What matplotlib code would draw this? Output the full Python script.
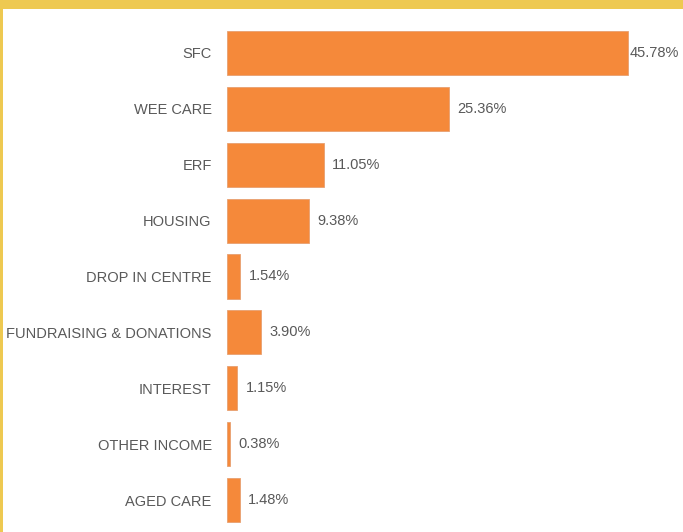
import matplotlib
matplotlib.use("Agg")
import matplotlib.pyplot as plt
from matplotlib.patches import Rectangle

categories = ["SFC", "WEE CARE", "ERF", "HOUSING", "DROP IN CENTRE",
              "FUNDRAISING & DONATIONS", "INTEREST", "OTHER INCOME", "AGED CARE"]
values = [45.78, 25.36, 11.05, 9.38, 1.54, 3.90, 1.15, 0.38, 1.48]
value_labels = ["45.78%", "25.36%", "11.05%", "9.38%", "1.54%",
                "3.90%", "1.15%", "0.38%", "1.48%"]

W, H = 683, 532
fig = plt.figure(figsize=(W / 100, H / 100), dpi=100)
fig.patch.set_facecolor("#EEC951")
fig.add_artist(Rectangle((3 / W, 0), 1 - 3 / W, (H - 9) / H,
                         transform=fig.transFigure, facecolor="white",
                         edgecolor="none", zorder=0))

left = 227 / W
bottom = 4 / H
height = 503 / H
ax = fig.add_axes([left, bottom, 1 - left, height])
ax.set_facecolor("none")

bar_color = "#F5893A"
ypos = list(range(len(categories)))
ax.barh(ypos, values, height=0.79, color=bar_color, edgecolor="#E8A070",
        linewidth=0.6)

xmax = (W - 227) / 8.76
ax.set_xlim(0, xmax)
ax.set_ylim(len(categories) - 0.5, -0.5)

text_color = "#595959"
ax.set_yticks(ypos)
ax.set_yticklabels(categories, fontsize=10.5, color=text_color,
                   family="Liberation Sans")
ax.tick_params(axis="y", length=0, pad=11)
ax.set_xticks([])
for s in ax.spines.values():
    s.set_visible(False)

vmax = max(values)
for y, v, lab in zip(ypos, values, value_labels):
    off = 1 if v == vmax else 6
    ax.annotate(lab, xy=(v, y), xytext=(off, 0), textcoords="offset points",
                va="center", ha="left", fontsize=10.5, color=text_color,
                family="Liberation Sans")

fig.savefig("out.png", dpi=100)
